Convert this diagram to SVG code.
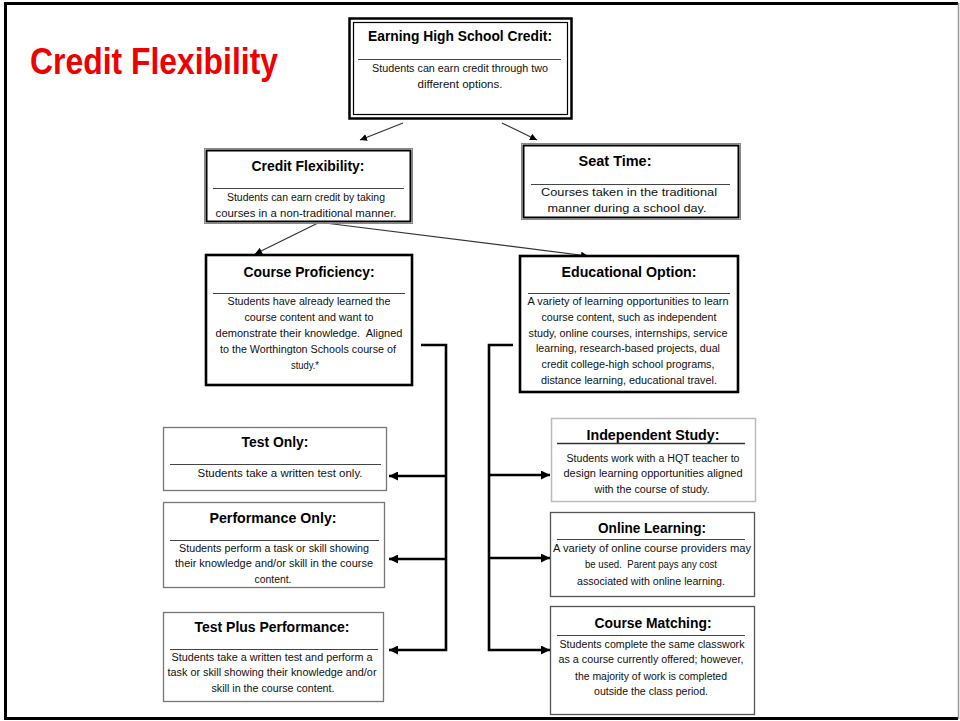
<svg xmlns="http://www.w3.org/2000/svg" width="960" height="721" viewBox="0 0 960 721">
<defs>
<style>
.h{font-family:"Liberation Sans",Arial,sans-serif;font-weight:bold;font-size:14px;fill:#000;text-anchor:middle}
.b{font-family:"Liberation Sans",Arial,sans-serif;font-size:10px;fill:#111;text-anchor:middle}
.sep{stroke:#444;stroke-width:1}
.thin{fill:none;stroke:#333;stroke-width:1.2}
.thick{fill:none;stroke:#000;stroke-width:2.6}
</style>
<marker id="ma" viewBox="0 0 10 10" refX="10" refY="5" markerWidth="7" markerHeight="7" markerUnits="userSpaceOnUse" orient="auto"><path d="M0,0 L10,5 L0,10 z" fill="#000"/></marker>
<marker id="mb" viewBox="0 0 10 10" refX="10" refY="5" markerWidth="9" markerHeight="9" markerUnits="userSpaceOnUse" orient="auto"><path d="M0,0 L10,5 L0,10 z" fill="#000"/></marker>
</defs>
<rect x="0" y="0" width="960" height="721" fill="#fff"/>
<path d="M958,3.5 H5.5 V718.5 H958" fill="none" stroke="#000" stroke-width="3"/>
<line x1="958.5" y1="3" x2="958.5" y2="719" stroke="#999" stroke-width="1.5"/>
<text x="30" y="74" font-family="'Liberation Sans',Arial,sans-serif" font-weight="bold" font-size="37" fill="#ee0000" textLength="248" lengthAdjust="spacingAndGlyphs">Credit Flexibility</text>

<g id="connectors">
<path class="thin" d="M403,123 L360,140" marker-end="url(#ma)"/>
<path class="thin" d="M502,123 L537,140" marker-end="url(#ma)"/>
<path class="thin" d="M318,223 L255,254" marker-end="url(#ma)"/>
<path class="thin" d="M325,223 L588,256" marker-end="url(#ma)"/>
<path class="thick" d="M421,345 H446 V650 H389" marker-end="url(#mb)"/>
<path class="thick" d="M446,476 H389" marker-end="url(#mb)"/>
<path class="thick" d="M446,559 H389" marker-end="url(#mb)"/>
<path class="thick" d="M513,345 H489 V650 H550" marker-end="url(#mb)"/>
<path class="thick" d="M489,475 H550" marker-end="url(#mb)"/>
<path class="thick" d="M489,558 H550" marker-end="url(#mb)"/>
</g>

<g id="earning">
<rect x="349.5" y="18.5" width="222" height="100" fill="#fff" stroke="#000" stroke-width="2.5"/>
<rect x="353.5" y="22.5" width="214" height="92" fill="none" stroke="#000" stroke-width="1.2"/>
<text class="h" x="460" y="41" textLength="184" lengthAdjust="spacingAndGlyphs">Earning High School Credit:</text>
<line class="sep" x1="358" y1="59.5" x2="561" y2="59.5"/>
<text class="b" x="460" y="72" textLength="176" lengthAdjust="spacingAndGlyphs">Students can earn credit through two</text>
<text class="b" x="460" y="88" textLength="85" lengthAdjust="spacingAndGlyphs">different options.</text>
</g>

<g id="creditflex">
<rect x="204.5" y="148.5" width="208" height="75" fill="#fff" stroke="#888" stroke-width="1"/>
<rect x="206.5" y="150.5" width="204" height="71" fill="none" stroke="#000" stroke-width="2"/>
<text class="h" x="308" y="171" textLength="113" lengthAdjust="spacingAndGlyphs">Credit Flexibility:</text>
<line class="sep" x1="213" y1="188.5" x2="404" y2="188.5"/>
<text class="b" x="306" y="201" textLength="158" lengthAdjust="spacingAndGlyphs">Students can earn credit by taking</text>
<text class="b" x="306" y="217" textLength="181" lengthAdjust="spacingAndGlyphs">courses in a non-traditional manner.</text>
</g>

<g id="seattime">
<rect x="521.5" y="143.5" width="219" height="76" fill="#fff" stroke="#888" stroke-width="1"/>
<rect x="523.5" y="145.5" width="215" height="72" fill="none" stroke="#000" stroke-width="2"/>
<text class="h" x="615" y="166" textLength="73" lengthAdjust="spacingAndGlyphs">Seat Time:</text>
<line class="sep" x1="531" y1="184.5" x2="730" y2="184.5"/>
<text class="b" x="629" y="196" textLength="176" lengthAdjust="spacingAndGlyphs">Courses taken in the traditional</text>
<text class="b" x="627" y="212" textLength="159" lengthAdjust="spacingAndGlyphs">manner during a school day.</text>
</g>

<g id="proficiency">
<rect x="206" y="255" width="206" height="130" fill="#fff" stroke="#000" stroke-width="2.6"/>
<text class="h" x="309" y="277" textLength="131" lengthAdjust="spacingAndGlyphs">Course Proficiency:</text>
<line class="sep" x1="213" y1="293.5" x2="405" y2="293.5"/>
<text class="b" x="309" y="305" textLength="163" lengthAdjust="spacingAndGlyphs">Students have already learned the</text>
<text class="b" x="309" y="321" textLength="129" lengthAdjust="spacingAndGlyphs">course content and want to</text>
<text class="b" x="309" y="337" textLength="187" lengthAdjust="spacingAndGlyphs" xml:space="preserve">demonstrate their knowledge.  Aligned</text>
<text class="b" x="308" y="353" textLength="176" lengthAdjust="spacingAndGlyphs">to the Worthington Schools course of</text>
<text class="b" x="305" y="369" textLength="28" lengthAdjust="spacingAndGlyphs">study.*</text>
</g>

<g id="educational">
<rect x="520" y="256" width="218" height="136" fill="#fff" stroke="#000" stroke-width="2.6"/>
<text class="h" x="629" y="277" textLength="135" lengthAdjust="spacingAndGlyphs">Educational Option:</text>
<line class="sep" x1="528" y1="293.5" x2="730" y2="293.5"/>
<text class="b" x="628" y="305" textLength="201" lengthAdjust="spacingAndGlyphs">A variety of learning opportunities to learn</text>
<text class="b" x="629" y="321" textLength="175" lengthAdjust="spacingAndGlyphs">course content, such as independent</text>
<text class="b" x="628" y="337" textLength="199" lengthAdjust="spacingAndGlyphs">study, online courses, internships, service</text>
<text class="b" x="628" y="352" textLength="184" lengthAdjust="spacingAndGlyphs">learning, research-based projects, dual</text>
<text class="b" x="628" y="368" textLength="173" lengthAdjust="spacingAndGlyphs">credit college-high school programs,</text>
<text class="b" x="629" y="384" textLength="176" lengthAdjust="spacingAndGlyphs">distance learning, educational travel.</text>
</g>

<g id="testonly">
<rect x="163.5" y="427.5" width="223" height="63" fill="#fff" stroke="#777" stroke-width="1.3"/>
<text class="h" x="275" y="447" textLength="67" lengthAdjust="spacingAndGlyphs">Test Only:</text>
<line class="sep" x1="170" y1="464.5" x2="381" y2="464.5"/>
<text class="b" x="280" y="477" textLength="165" lengthAdjust="spacingAndGlyphs">Students take a written test only.</text>
</g>

<g id="perfonly">
<rect x="163.5" y="502.5" width="221" height="85" fill="#fff" stroke="#777" stroke-width="1.3"/>
<text class="h" x="273" y="523" textLength="127" lengthAdjust="spacingAndGlyphs">Performance Only:</text>
<line class="sep" x1="170" y1="540.5" x2="379" y2="540.5"/>
<text class="b" x="274" y="552" textLength="190" lengthAdjust="spacingAndGlyphs">Students perform a task or skill showing</text>
<text class="b" x="274" y="567" textLength="198" lengthAdjust="spacingAndGlyphs">their knowledge and/or skill in the course</text>
<text class="b" x="273" y="583" textLength="37" lengthAdjust="spacingAndGlyphs">content.</text>
</g>

<g id="testplus">
<rect x="163.5" y="612.5" width="220" height="89" fill="#fff" stroke="#777" stroke-width="1.3"/>
<text class="h" x="272" y="632" textLength="155" lengthAdjust="spacingAndGlyphs">Test Plus Performance:</text>
<line class="sep" x1="170" y1="649.5" x2="378" y2="649.5"/>
<text class="b" x="272" y="661" textLength="201" lengthAdjust="spacingAndGlyphs">Students take a written test and perform a</text>
<text class="b" x="272" y="676" textLength="209" lengthAdjust="spacingAndGlyphs">task or skill showing their knowledge and/or</text>
<text class="b" x="273" y="692" textLength="123" lengthAdjust="spacingAndGlyphs">skill in the course content.</text>
</g>

<g id="independent">
<rect x="551.5" y="418.5" width="204" height="83" fill="#fff" stroke="#bbb" stroke-width="1.5"/>
<text class="h" x="653" y="440" textLength="133" lengthAdjust="spacingAndGlyphs">Independent Study:</text>
<line x1="557" y1="443.5" x2="745" y2="443.5" stroke="#333" stroke-width="1.5"/>
<text class="b" x="653" y="462" textLength="173" lengthAdjust="spacingAndGlyphs">Students work with a HQT teacher to</text>
<text class="b" x="653" y="477" textLength="179" lengthAdjust="spacingAndGlyphs">design learning opportunities aligned</text>
<text class="b" x="652" y="493" textLength="115" lengthAdjust="spacingAndGlyphs">with the course of study.</text>
</g>

<g id="online">
<rect x="550.5" y="512.5" width="204" height="84" fill="#fff" stroke="#555" stroke-width="1.3"/>
<text class="h" x="652" y="533" textLength="108" lengthAdjust="spacingAndGlyphs">Online Learning:</text>
<line class="sep" x1="557" y1="539.5" x2="745" y2="539.5"/>
<text class="b" x="652" y="552" textLength="198" lengthAdjust="spacingAndGlyphs">A variety of online course providers may</text>
<text class="b" x="651" y="568" textLength="132" lengthAdjust="spacingAndGlyphs" xml:space="preserve">be used.  Parent pays any cost</text>
<text class="b" x="651" y="585" textLength="148" lengthAdjust="spacingAndGlyphs">associated with online learning.</text>
</g>

<g id="matching">
<rect x="550.5" y="606.5" width="204" height="108" fill="#fff" stroke="#555" stroke-width="1.3"/>
<text class="h" x="653" y="628" textLength="117" lengthAdjust="spacingAndGlyphs">Course Matching:</text>
<line class="sep" x1="557" y1="635.5" x2="745" y2="635.5"/>
<text class="b" x="652" y="648" textLength="185" lengthAdjust="spacingAndGlyphs">Students complete the same classwork</text>
<text class="b" x="651" y="663" textLength="185" lengthAdjust="spacingAndGlyphs">as a course currently offered; however,</text>
<text class="b" x="651" y="680" textLength="152" lengthAdjust="spacingAndGlyphs">the majority of work is completed</text>
<text class="b" x="651" y="695" textLength="114" lengthAdjust="spacingAndGlyphs">outside the class period.</text>
</g>
</svg>
